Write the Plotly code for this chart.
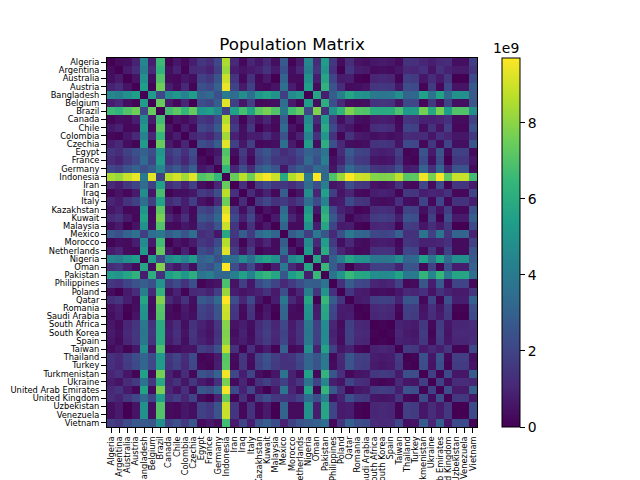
import numpy as np
import plotly.graph_objects as go

countries = [
    "Algeria", "Argentina", "Australia", "Austria", "Bangladesh", "Belgium", "Brazil", "Canada", "Chile",
    "Colombia", "Czechia", "Egypt", "France", "Germany", "Indonesia", "Iran", "Iraq", "Italy", "Kazakhstan",
    "Kuwait", "Malaysia", "Mexico", "Morocco", "Netherlands", "Nigeria", "Oman", "Pakistan", "Philippines",
    "Poland", "Qatar", "Romania", "Saudi Arabia", "South Africa", "South Korea", "Spain", "Taiwan", "Thailand",
    "Turkey", "Turkmenistan", "Ukraine", "United Arab Emirates", "United Kingdom", "Uzbekistan", "Venezuela",
    "Vietnam",
]

# values, in units of 1e8
matrix = [
    [0,3,4,9,45,8,66,1,6,2,8,15,12,21,85,11,2,10,6,11,4,27,1,7,45,12,53,16,3,12,5,4,6,7,6,3,14,13,10,8,11,12,4,4,18],
    [3,0,7,12,42,11,63,4,9,1,11,12,9,18,82,8,5,7,9,14,7,24,4,10,42,15,50,13,0,15,8,7,3,4,3,6,11,10,13,5,14,9,7,7,15],
    [4,7,0,5,49,4,70,3,2,6,4,19,16,25,89,15,2,14,2,7,0,31,3,3,49,8,57,20,7,8,1,0,10,11,10,1,18,17,6,12,7,16,0,0,22],
    [9,12,5,0,54,1,75,8,3,11,1,24,21,30,94,20,7,19,3,2,5,36,8,2,54,3,62,25,12,3,4,5,15,16,15,6,23,22,1,17,2,21,5,5,27],
    [45,42,49,54,0,53,21,46,51,43,53,30,33,24,40,34,47,35,51,56,49,18,46,52,0,57,8,29,42,57,50,49,39,38,39,48,31,32,55,37,56,33,49,49,27],
    [8,11,4,1,53,0,74,7,2,10,0,23,20,29,93,19,6,18,2,3,4,35,7,1,53,4,61,24,11,4,3,4,14,15,14,5,22,21,2,16,3,20,4,4,26],
    [66,63,70,75,21,74,0,67,72,64,74,51,54,45,19,55,68,56,72,77,70,39,67,73,21,78,13,50,63,78,71,70,60,59,60,69,52,53,76,58,77,54,70,70,48],
    [1,4,3,8,46,7,67,0,5,3,7,16,13,22,86,12,1,11,5,10,3,28,0,6,46,11,54,17,4,11,4,3,7,8,7,2,15,14,9,9,10,13,3,3,19],
    [6,9,2,3,51,2,72,5,0,8,2,21,18,27,91,17,4,16,0,5,2,33,5,1,51,6,59,22,9,6,1,2,12,13,12,3,20,19,4,14,5,18,2,2,24],
    [2,1,6,11,43,10,64,3,8,0,10,13,10,19,83,9,4,8,8,13,6,25,3,9,43,14,51,14,1,14,7,6,4,5,4,5,12,11,12,6,13,10,6,6,16],
    [8,11,4,1,53,0,74,7,2,10,0,23,20,29,93,19,6,18,2,3,4,35,7,1,53,4,61,24,11,4,3,4,14,15,14,5,22,21,2,16,3,20,4,4,26],
    [15,12,19,24,30,23,51,16,21,13,23,0,3,6,70,4,17,5,21,26,19,12,16,22,30,27,38,1,12,27,20,19,9,8,9,18,1,2,25,7,26,3,19,19,3],
    [12,9,16,21,33,20,54,13,18,10,20,3,0,9,73,1,14,2,18,23,16,15,13,19,33,24,41,4,9,24,17,16,6,5,6,15,2,1,22,4,23,0,16,16,6],
    [21,18,25,30,24,29,45,22,27,19,29,6,9,0,64,10,23,11,27,32,25,6,22,28,24,33,32,5,18,33,26,25,15,14,15,24,7,8,31,13,32,9,25,25,3],
    [85,82,89,94,40,93,19,86,91,83,93,70,73,64,0,74,87,75,91,96,89,58,86,92,40,97,32,69,82,97,90,89,79,78,79,88,71,72,95,77,96,73,89,89,67],
    [11,8,15,20,34,19,55,12,17,9,19,4,1,10,74,0,13,1,17,22,15,16,12,18,34,23,42,5,8,23,16,15,5,4,5,14,3,2,21,3,22,1,15,15,7],
    [2,5,2,7,47,6,68,1,4,4,6,17,14,23,87,13,0,12,4,9,2,29,1,5,47,10,55,18,5,10,3,2,8,9,8,1,16,15,8,10,9,14,2,2,20],
    [10,7,14,19,35,18,56,11,16,8,18,5,2,11,75,1,12,0,16,21,14,17,11,17,35,22,43,6,7,22,15,14,4,3,4,13,4,3,20,2,21,2,14,14,8],
    [6,9,2,3,51,2,72,5,0,8,2,21,18,27,91,17,4,16,0,5,2,33,5,1,51,6,59,22,9,6,1,2,12,13,12,3,20,19,4,14,5,18,2,2,24],
    [11,14,7,2,56,3,77,10,5,13,3,26,23,32,96,22,9,21,5,0,7,38,10,4,56,1,64,27,14,1,6,7,17,18,17,8,25,24,1,19,0,23,7,7,29],
    [4,7,0,5,49,4,70,3,2,6,4,19,16,25,89,15,2,14,2,7,0,31,3,3,49,8,57,20,7,8,1,0,10,11,10,1,18,17,6,12,7,16,0,0,22],
    [27,24,31,36,18,35,39,28,33,25,35,12,15,6,58,16,29,17,33,38,31,0,28,34,18,39,26,11,24,39,32,31,21,20,21,30,13,14,37,19,38,15,31,31,9],
    [1,4,3,8,46,7,67,0,5,3,7,16,13,22,86,12,1,11,5,10,3,28,0,6,46,11,54,17,4,11,4,3,7,8,7,2,15,14,9,9,10,13,3,3,19],
    [7,10,3,2,52,1,73,6,1,9,1,22,19,28,92,18,5,17,1,4,3,34,6,0,52,5,60,23,10,5,2,3,13,14,13,4,21,20,3,15,4,19,3,3,25],
    [45,42,49,54,0,53,21,46,51,43,53,30,33,24,40,34,47,35,51,56,49,18,46,52,0,57,8,29,42,57,50,49,39,38,39,48,31,32,55,37,56,33,49,49,27],
    [12,15,8,3,57,4,78,11,6,14,4,27,24,33,97,23,10,22,6,1,8,39,11,5,57,0,65,28,15,0,7,8,18,19,18,9,26,25,2,20,1,24,8,8,30],
    [53,50,57,62,8,61,13,54,59,51,61,38,41,32,32,42,55,43,59,64,57,26,54,60,8,65,0,37,50,65,58,57,47,46,47,56,39,40,63,45,64,41,57,57,35],
    [16,13,20,25,29,24,50,17,22,14,24,1,4,5,69,5,18,6,22,27,20,11,17,23,29,28,37,0,13,28,21,20,10,9,10,19,2,3,26,8,27,4,20,20,2],
    [3,0,7,12,42,11,63,4,9,1,11,12,9,18,82,8,5,7,9,14,7,24,4,10,42,15,50,13,0,15,8,7,3,4,3,6,11,10,13,5,14,9,7,7,15],
    [12,15,8,3,57,4,78,11,6,14,4,27,24,33,97,23,10,22,6,1,8,39,11,5,57,0,65,28,15,0,7,8,18,19,18,9,26,25,2,20,1,24,8,8,30],
    [5,8,1,4,50,3,71,4,1,7,3,20,17,26,90,16,3,15,1,6,1,32,4,2,50,7,58,21,8,7,0,1,11,12,11,2,19,18,5,13,6,17,1,1,23],
    [4,7,0,5,49,4,70,3,2,6,4,19,16,25,89,15,2,14,2,7,0,31,3,3,49,8,57,20,7,8,1,0,10,11,10,1,18,17,6,12,7,16,0,0,22],
    [6,3,10,15,39,14,60,7,12,4,14,9,6,15,79,5,8,4,12,17,10,21,7,13,39,18,47,10,3,18,11,10,0,1,0,9,8,7,16,2,17,6,10,10,12],
    [7,4,11,16,38,15,59,8,13,5,15,8,5,14,78,4,9,3,13,18,11,20,8,14,38,19,46,9,4,19,12,11,1,0,1,10,7,6,17,1,18,5,11,11,11],
    [6,3,10,15,39,14,60,7,12,4,14,9,6,15,79,5,8,4,12,17,10,21,7,13,39,18,47,10,3,18,11,10,0,1,0,9,8,7,16,2,17,6,10,10,12],
    [3,6,1,6,48,5,69,2,3,5,5,18,15,24,88,14,1,13,3,8,1,30,2,4,48,9,56,19,6,9,2,1,9,10,9,0,17,16,7,11,8,15,1,1,21],
    [14,11,18,23,31,22,52,15,20,12,22,1,2,7,71,3,16,4,20,25,18,13,15,21,31,26,39,2,11,26,19,18,8,7,8,17,0,1,24,6,25,2,18,18,4],
    [13,10,17,22,32,21,53,14,19,11,21,2,1,8,72,2,15,3,19,24,17,14,14,20,32,25,40,3,10,25,18,17,7,6,7,16,1,0,23,5,24,1,17,17,5],
    [10,13,6,1,55,2,76,9,4,12,2,25,22,31,95,21,8,20,4,1,6,37,9,3,55,2,63,26,13,2,5,6,16,17,16,7,24,23,0,18,1,22,6,6,28],
    [8,5,12,17,37,16,58,9,14,6,16,7,4,13,77,3,10,2,14,19,12,19,9,15,37,20,45,8,5,20,13,12,2,1,2,11,6,5,18,0,19,4,12,12,10],
    [11,14,7,2,56,3,77,10,5,13,3,26,23,32,96,22,9,21,5,0,7,38,10,4,56,1,64,27,14,1,6,7,17,18,17,8,25,24,1,19,0,23,7,7,29],
    [12,9,16,21,33,20,54,13,18,10,20,3,0,9,73,1,14,2,18,23,16,15,13,19,33,24,41,4,9,24,17,16,6,5,6,15,2,1,22,4,23,0,16,16,6],
    [4,7,0,5,49,4,70,3,2,6,4,19,16,25,89,15,2,14,2,7,0,31,3,3,49,8,57,20,7,8,1,0,10,11,10,1,18,17,6,12,7,16,0,0,22],
    [4,7,0,5,49,4,70,3,2,6,4,19,16,25,89,15,2,14,2,7,0,31,3,3,49,8,57,20,7,8,1,0,10,11,10,1,18,17,6,12,7,16,0,0,22],
    [18,15,22,27,27,26,48,19,24,16,26,3,6,3,67,7,20,8,24,29,22,9,19,25,27,30,35,2,15,30,23,22,12,11,12,21,4,5,28,10,29,6,22,22,0],
]

colorbar_ticks = [0, 2e9, 4e9, 6e9, 8e9]
colorbar_labels = ["0", "2", "4", "6", "8"]

font = "DejaVu Sans"

# the page has an 8px body margin, so the figure is 8px smaller than the window
fig = go.Figure(
    go.Heatmap(
        z=np.array(matrix) * 1e8,
        x=countries,
        y=countries,
        colorscale="Viridis",
        zmin=0,
        zmax=9.7e9,
        colorbar=dict(
            thickness=18,
            len=1,
            x=1.0676,
            xanchor="left",
            xpad=0,
            ypad=0,
            y=0,
            yanchor="bottom",
            outlinecolor="black",
            outlinewidth=1,
            ticks="outside",
            ticklen=5,
            tickcolor="black",
            tickvals=colorbar_ticks,
            ticktext=colorbar_labels,
            tickfont=dict(family=font, size=13.9, color="black"),
        ),
    )
)

fig.update_xaxes(
    type="category",
    automargin=False,
    tickangle=-90,
    ticks="outside",
    ticklen=5,
    tickcolor="black",
    tickwidth=1,
    tickfont=dict(family=font, size=8.3, color="black"),
    showgrid=False,
    zeroline=False,
    showline=True,
    linecolor="black",
    linewidth=1,
    mirror=True,
    ticklabeloverflow="allow",
    tickmode="array",
    tickvals=countries,
    ticktext=countries,
)
fig.update_yaxes(
    type="category",
    automargin=False,
    autorange="reversed",
    ticks="outside",
    ticklen=5,
    tickcolor="black",
    tickwidth=1,
    tickfont=dict(family=font, size=8.3, color="black"),
    showgrid=False,
    zeroline=False,
    showline=True,
    linecolor="black",
    linewidth=1,
    mirror=True,
    ticklabeloverflow="allow",
    tickmode="array",
    tickvals=countries,
    ticktext=countries,
)

fig.update_layout(
    title=dict(
        text="Population Matrix",
        x=284 / 632,
        xanchor="center",
        y=1 - 36 / 472,
        yanchor="middle",
        font=dict(family=font, size=16.7, color="black"),
    ),
    width=632,
    height=472,
    autosize=False,
    margin=dict(l=99, r=163, t=50, b=53),
    paper_bgcolor="white",
    plot_bgcolor="white",
    annotations=[
        dict(
            text="1e9",
            xref="paper",
            yref="paper",
            x=1.0676 + 4 / 370,
            y=0.9996,
            xanchor="center",
            yanchor="bottom",
            showarrow=False,
            font=dict(family=font, size=13.9, color="black"),
        )
    ],
)

fig.write_html("out.html")
